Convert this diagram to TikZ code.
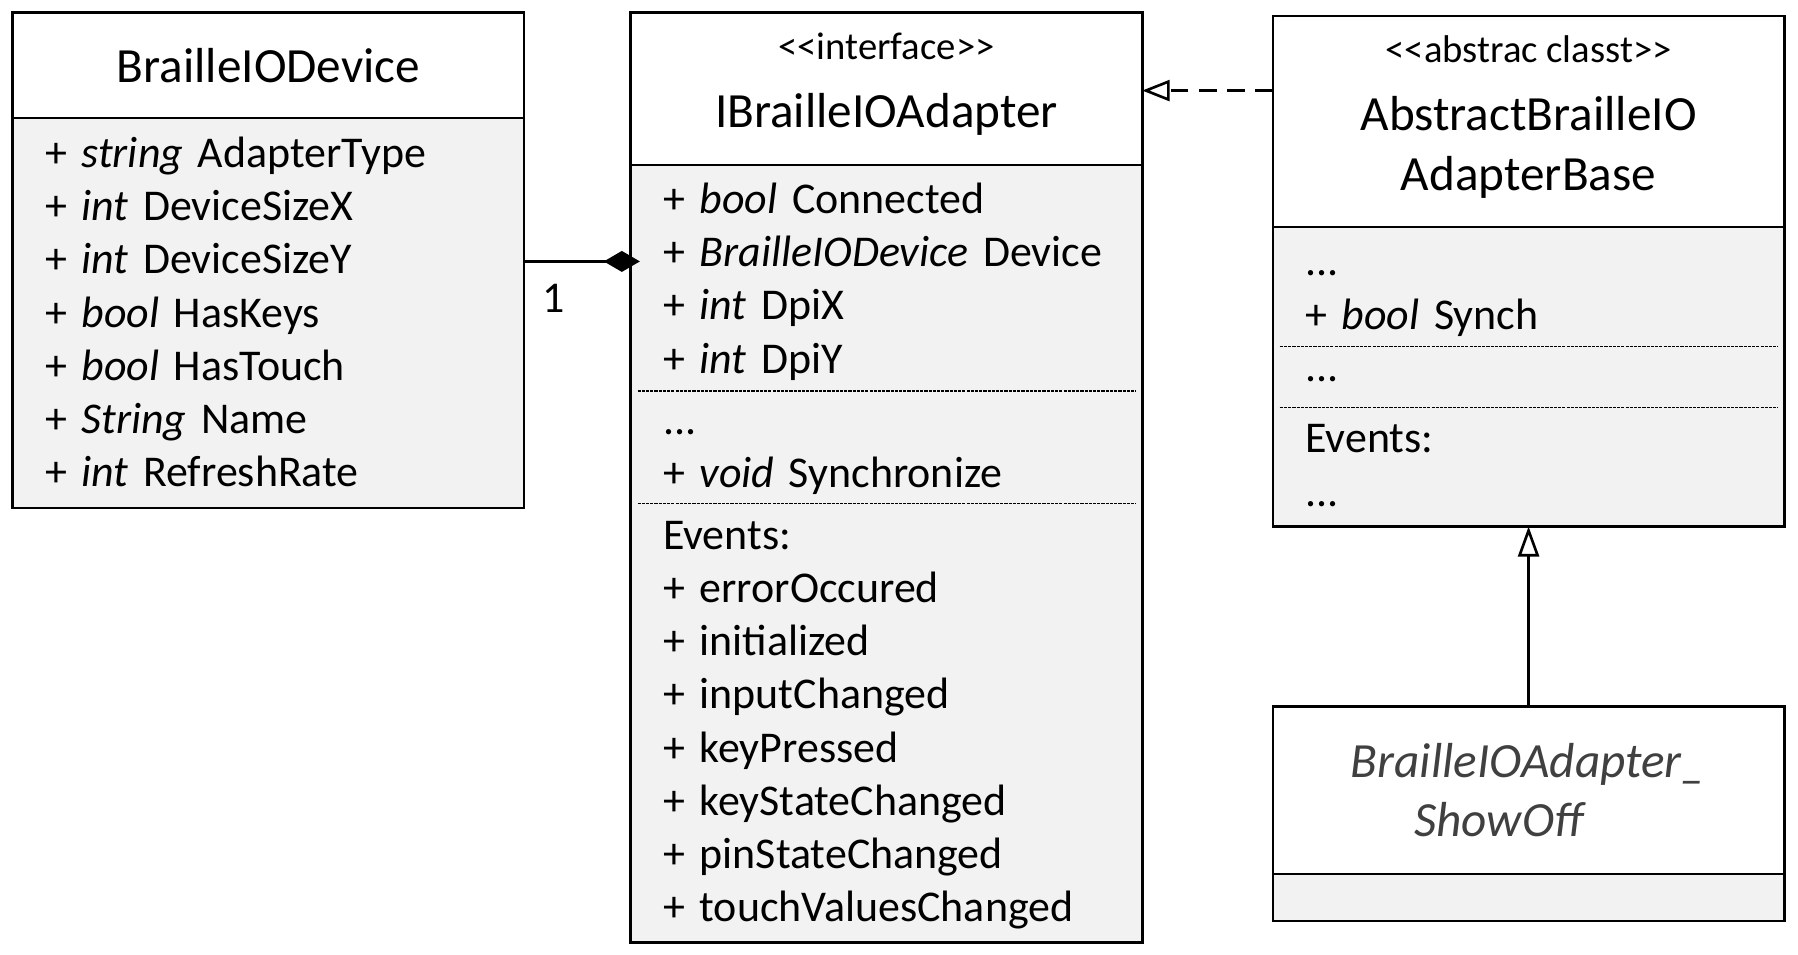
\documentclass[tikz,border=0pt]{standalone}
\usepackage{fontspec}
\setmainfont{Carlito}
\usetikzlibrary{positioning, arrows.meta, calc}
\definecolor{bodygray}{RGB}{242,242,242}
\definecolor{showgray}{RGB}{64,64,64}
\newcommand{\stereo}[1]{{\fontsize{22}{26}\selectfont<\kern0pt<#1>\kern0pt>}}
\newcommand{\lowstrut}{\rule[-10pt]{0pt}{10pt}}

\begin{document}
\begin{tikzpicture}[
  x=0.022934cm, y=0.022934cm,
  head/.style={rectangle, draw, line width=1.5pt, fill=white, outer sep=0pt,
               inner sep=0pt, minimum width=10.23cm, align=center,
               font=\fontsize{28}{34}\selectfont, anchor=north west},
  body/.style={rectangle, draw, line width=1.5pt, fill=bodygray, outer sep=0pt,
               inner sep=0pt, minimum width=10.23cm},
  item/.style={anchor=base west, inner sep=0pt, text width=9.4cm, align=left,
               font=\fontsize{25}{30.3}\selectfont},
  sep/.style={line width=0.6pt, dash pattern=on 1.8pt off 0.6pt},
  comp/.style={line width=1.5pt, -{Diamond[length=0.72cm, width=0.42cm]}},
  real/.style={line width=1.5pt, dash pattern=on 10pt off 6pt,
               -{Triangle[open, length=0.55cm, width=0.42cm]}},
  inh/.style={line width=1.5pt, -{Triangle[open, length=0.6cm, width=0.42cm]}}
]
  \useasboundingbox (0,0) rectangle (1568,-832);

  % classes
  \node[head, minimum height=2.11cm] (devhead) at (11,-11) {BrailleIODevice};
  \node[body, minimum height=7.80cm, below=0pt of devhead] (devbody) {};

  \node[head, minimum height=3.05cm] (adphead) at (550,-11)
       {\stereo{interface}\\[5pt]IBrailleIOAdapter\lowstrut};
  \node[body, minimum height=15.55cm, below=0pt of adphead] (adpbody) {};

  \node[head, minimum height=4.22cm] (abshead) at (1110,-14)
       {\stereo{abstrac classt}\\[5pt]AbstractBrailleIO\\AdapterBase\lowstrut};
  \node[body, minimum height=5.99cm, below=0pt of abshead] (absbody) {};

  \node[head, minimum height=3.35cm, text=showgray,
        font=\fontsize{28}{34}\selectfont\itshape] (showhead) at (1110,-616)
       {BrailleIOAdapter\_\\ShowOff\hspace*{1.2cm}};
  \node[body, minimum height=0.94cm, below=0pt of showhead] (showbody) {};

  % members
  \node[item] (devattr) at ($(devbody.north west)+(28,-43)$)
       {+ \textit{string} AdapterType\\
        + \textit{int} DeviceSizeX\\
        + \textit{int} DeviceSizeY\\
        + \textit{bool} HasKeys\\
        + \textit{bool} HasTouch\\
        + \textit{String} Name\\
        + \textit{int} RefreshRate};

  \node[item] (adpattr) at ($(adpbody.north west)+(28,-42)$)
       {+ \textit{bool} Connected\\
        + \textit{BrailleIODevice} Device\\
        + \textit{int} DpiX\\
        + \textit{int} DpiY};
  \node[item] (adpops) at ($(adpbody.north west)+(28,-234.5)$)
       {...\\
        + \textit{void} Synchronize};
  \node[item] (adpevents) at ($(adpbody.north west)+(28,-335)$)
       {Events:\\
        + errorOccured\\
        + initialized\\
        + inputChanged\\
        + keyPressed\\
        + keyStateChanged\\
        + pinStateChanged\\
        + touchValuesChanged};
  \draw[sep] ($(adpbody.north west)+(6,-197)$) -- ($(adpbody.north east)+(-6,-197)$);
  \draw[sep] ($(adpbody.north west)+(6,-295)$) -- ($(adpbody.north east)+(-6,-295)$);

  \node[item] (absattr) at ($(absbody.north west)+(28,-42.5)$)
       {...\\
        + \textit{bool} Synch};
  \node[item] (absops) at ($(absbody.north west)+(28,-135)$) {...};
  \node[item] (absevents) at ($(absbody.north west)+(28,-197)$)
       {Events:\\
        ...};
  \draw[sep] ($(absbody.north west)+(6,-104)$) -- ($(absbody.north east)+(-6,-104)$);
  \draw[sep] ($(absbody.north west)+(6,-157)$) -- ($(absbody.north east)+(-6,-157)$);

  % relations
  \draw[comp] ($(devbody.north east)+(0,-125)$) -- ($(adpbody.north west)+(8,-84)$);
  \node[font=\fontsize{25}{30}\selectfont] (mult) at (483,-260) {1};
  \draw[real] ($(abshead.north west)+(0,-65)$) -- ($(adphead.north east)+(0,-68)$);
  \draw[inh] (showhead.north) -- (absbody.south);
\end{tikzpicture}
\end{document}
